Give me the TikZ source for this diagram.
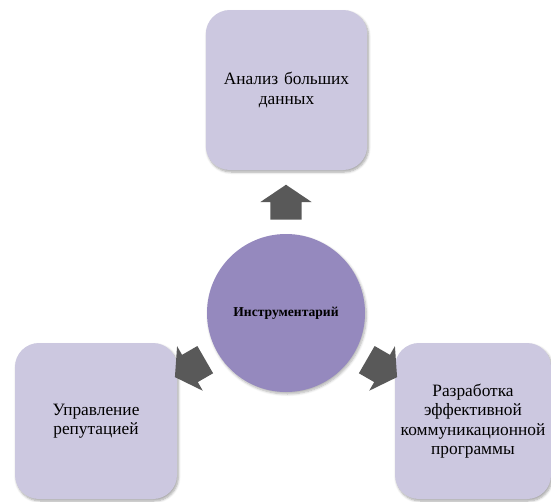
\documentclass[tikz,border=0pt]{standalone}
\usepackage{fontspec}
\setmainfont{Liberation Serif}
\usetikzlibrary{shapes.arrows, shadows.blur}

\begin{document}
\begin{tikzpicture}[x=0.75pt, y=-0.75pt, font=\fontsize{13}{14.5}\selectfont]
  \definecolor{box}{HTML}{CCC8E0}
  \definecolor{hub}{HTML}{9589BE}
  \definecolor{arr}{HTML}{595959}
  \tikzset{
    tool/.style={fill=box, rounded corners=18pt, inner sep=0pt, align=center,
      blur shadow={shadow xshift=1pt, shadow yshift=-1.5pt, shadow blur steps=6, shadow opacity=35}},
    pointer/.style={single arrow, fill=arr, inner xsep=0pt, inner ysep=11.6pt, minimum height=26.25pt,
      single arrow head extend=7.5pt, single arrow tip angle=112, anchor=tail}
  }
  \useasboundingbox (0,0) rectangle (551,501);
  \clip (0,0) rectangle (551,501);

  \node (hub) at (286, 313) [circle, fill=hub, minimum size=118.5pt, inner sep=0pt,
    blur shadow={shadow xshift=1pt, shadow yshift=-1.5pt, shadow blur steps=6, shadow opacity=30},
    font=\fontsize{10.2}{12}\selectfont\bfseries] {Инструментарий};

  \node (data) at (286.5, 90) [tool, text width=121pt, minimum height=120pt] {Анализ больших\\данных};
  \node (rep) at (96, 421) [tool, text width=121.5pt, minimum height=117pt] {Управление\\репутацией};
  \node (prog) at (473, 421) [tool, text width=117pt, minimum height=117pt]
    {Разработка\\эффективной\\коммуникационной\\программы};

  % arrows out of the hub
  \node (up) at ([shift={(90:69.75pt)}] hub.center) [pointer, rotate=90] {};
  \node (left) at ([shift={(210:69.75pt)}] hub.center) [pointer, rotate=210] {};
  \node (right) at ([shift={(330:69.75pt)}] hub.center) [pointer, rotate=330] {};
\end{tikzpicture}
\end{document}
